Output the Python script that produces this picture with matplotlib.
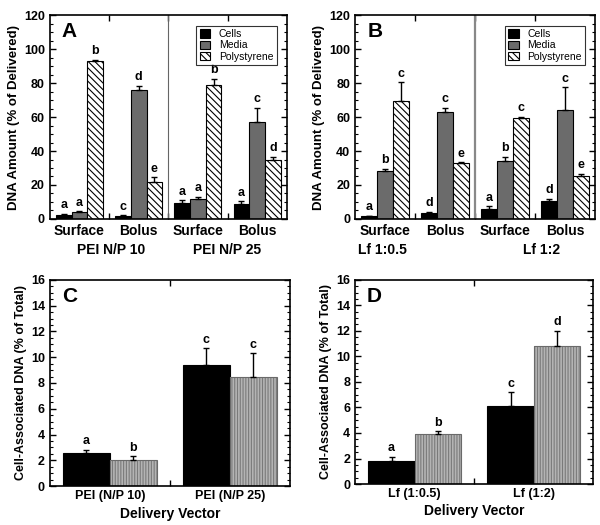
import numpy as np
import matplotlib
matplotlib.use("Agg")
from matplotlib import pyplot as plt
from matplotlib.ticker import MultipleLocator

plt.rcParams['font.family'] = ['Liberation Sans', 'DejaVu Sans']
plt.rcParams['font.weight'] = 'bold'
plt.rcParams['axes.labelweight'] = 'bold'
plt.rcParams['hatch.linewidth'] = 0.8

# panel A / B data: groups = Surface, Bolus, Surface, Bolus
groups = ['Surface', 'Bolus', 'Surface', 'Bolus']
series = ['Cells', 'Media', 'Polystyrene']

a_cells = [2.5, 1.5, 9.5, 8.5]
a_cells_err = [0.5, 0.7, 1.5, 2.0]
a_media = [4.0, 76.0, 11.5, 57.0]
a_media_err = [0.6, 2.5, 1.5, 8.5]
a_poly = [93.0, 21.5, 79.0, 34.5]
a_poly_err = [0.8, 3.0, 3.5, 2.0]
a_letters = [['a', 'c', 'a', 'a'], ['a', 'd', 'a', 'c'], ['b', 'e', 'b', 'd']]
a_vectors = ['PEI N/P 10', 'PEI N/P 25']

b_cells = [1.5, 3.5, 6.0, 10.5]
b_cells_err = [0.4, 0.8, 1.5, 1.5]
b_media = [28.5, 63.0, 34.0, 64.0]
b_media_err = [1.0, 2.5, 2.5, 13.5]
b_poly = [69.5, 33.0, 59.5, 25.0]
b_poly_err = [11.0, 0.5, 0.6, 1.5]
b_letters = [['a', 'd', 'a', 'd'], ['b', 'c', 'b', 'c'], ['c', 'e', 'c', 'e']]
b_vectors = ['Lf 1:0.5', 'Lf 1:2']

# panel C / D data
c_vectors = ['PEI (N/P 10)', 'PEI (N/P 25)']
c_black = [2.6, 9.4]
c_black_err = [0.2, 1.3]
c_grey = [2.0, 8.5]
c_grey_err = [0.3, 1.8]
c_letters = [['a', 'c'], ['b', 'c']]

d_vectors = ['Lf (1:0.5)', 'Lf (1:2)']
d_black = [1.8, 6.1]
d_black_err = [0.35, 1.1]
d_grey = [3.9, 10.8]
d_grey_err = [0.25, 1.2]
d_letters = [['a', 'c'], ['b', 'd']]


def style_ticks(ax):
	ax.tick_params(axis='both', which='both', direction='in', top=True, right=True, labelsize=9)
	ax.tick_params(which='major', length=4, width=1)
	ax.tick_params(which='minor', length=2, width=0.8)
	for s in ax.spines.values():
		s.set_linewidth(1.2)


def top_panel(ax, cells, cerr, media, merr, poly, perr, letters, vectors, vec_x, tag, divw, divc):
	x = np.arange(4) + 0.5
	w = 0.265
	vals = [cells, media, poly]
	errs = [cerr, merr, perr]
	styles = [dict(color='black'), dict(color='#6b6b6b'), dict(color='white', hatch='\\\\\\\\\\')]
	for i in range(3):
		xi = x + (i - 1) * w
		ax.bar(xi, vals[i], w, edgecolor='black', linewidth=0.8, label=series[i], **styles[i])
		ax.errorbar(xi, vals[i], yerr=[np.zeros(4), errs[i]], fmt='none', ecolor='black', elinewidth=1, capsize=2)
		for j in range(4):
			ax.text(xi[j], vals[i][j] + errs[i][j] + 1.5, letters[i][j], ha='center', va='bottom', fontsize=9)
	ax.axvline(2, color=divc, lw=divw)
	ax.set_xlim(0, 4)
	ax.set_ylim(0, 120)
	ax.set_xticks([1, 2, 3])
	ax.set_xticklabels([])
	for j in range(4):
		ax.text(x[j], -3, groups[j], transform=ax.transData, ha='center', va='top', fontsize=10)
	for k in range(2):
		ax.text(vec_x[k], -14, vectors[k], ha='center', va='top', fontsize=10)
	ax.yaxis.set_major_locator(MultipleLocator(20))
	ax.yaxis.set_minor_locator(MultipleLocator(5))
	style_ticks(ax)
	ax.set_ylabel('DNA Amount (% of Delivered)', fontsize=9.5, labelpad=3)
	ax.text(0.05, 0.965, tag, transform=ax.transAxes, ha='left', va='top', fontsize=15)
	leg = ax.legend(loc='upper right', frameon=True, fancybox=False, edgecolor='black',
		handlelength=1.0, handleheight=0.9, borderpad=0.35, labelspacing=0.12, handletextpad=0.8,
		bbox_to_anchor=(0.98, 0.975), prop={'weight': 'normal', 'size': 7.5})
	leg.get_frame().set_linewidth(0.8)


def bottom_panel(ax, black, berr, grey, gerr, letters, vectors, tag):
	x = np.arange(2) + 0.5
	w = 0.39
	xb = x - w / 2
	xg = x + w / 2
	ax.bar(xb, black, w, color='black', edgecolor='black', linewidth=0.8)
	ax.bar(xg, grey, w, color='#b4b4b4', edgecolor='#7a7a7a', hatch='||||||', linewidth=0)
	ax.bar(xg, grey, w, color='none', edgecolor='#6a6a6a', linewidth=0.8)
	ax.errorbar(xb, black, yerr=[np.zeros(2), berr], fmt='none', ecolor='black', elinewidth=1, capsize=2)
	ax.errorbar(xg, grey, yerr=[np.zeros(2), gerr], fmt='none', ecolor='black', elinewidth=1, capsize=2)
	for j in range(2):
		ax.text(xb[j], black[j] + berr[j] + 0.2, letters[0][j], ha='center', va='bottom', fontsize=9)
		ax.text(xg[j], grey[j] + gerr[j] + 0.2, letters[1][j], ha='center', va='bottom', fontsize=9)
	ax.set_xlim(0, 2)
	ax.set_ylim(0, 16)
	ax.set_xticks([1])
	ax.set_xticklabels([])
	for j in range(2):
		ax.text(x[j], -0.3, vectors[j], ha='center', va='top', fontsize=9)
	ax.text(0.5, -0.1, 'Delivery Vector', transform=ax.transAxes, ha='center', va='top', fontsize=10)
	ax.yaxis.set_major_locator(MultipleLocator(2))
	ax.yaxis.set_minor_locator(MultipleLocator(0.5))
	style_ticks(ax)
	ax.set_ylabel('Cell-Associated DNA (% of Total)', fontsize=9, labelpad=3)
	ax.text(0.05, 0.965, tag, transform=ax.transAxes, ha='left', va='top', fontsize=15)


fig = plt.figure(figsize=(6, 5.25), dpi=100)
axA = fig.add_axes([0.083, 0.583, 0.395, 0.388])
axB = fig.add_axes([0.592, 0.583, 0.40, 0.388])
axC = fig.add_axes([0.083, 0.074, 0.40, 0.393])
axD = fig.add_axes([0.592, 0.078, 0.397, 0.389])

top_panel(axA, a_cells, a_cells_err, a_media, a_media_err, a_poly, a_poly_err, a_letters, a_vectors, [1.03, 3.0], 'A', 0.8, '#666666')
top_panel(axB, b_cells, b_cells_err, b_media, b_media_err, b_poly, b_poly_err, b_letters, b_vectors, [0.45, 3.1], 'B', 1.6, '#888888')
bottom_panel(axC, c_black, c_black_err, c_grey, c_grey_err, c_letters, c_vectors, 'C')
bottom_panel(axD, d_black, d_black_err, d_grey, d_grey_err, d_letters, d_vectors, 'D')

fig.savefig('out.png', dpi=100)
